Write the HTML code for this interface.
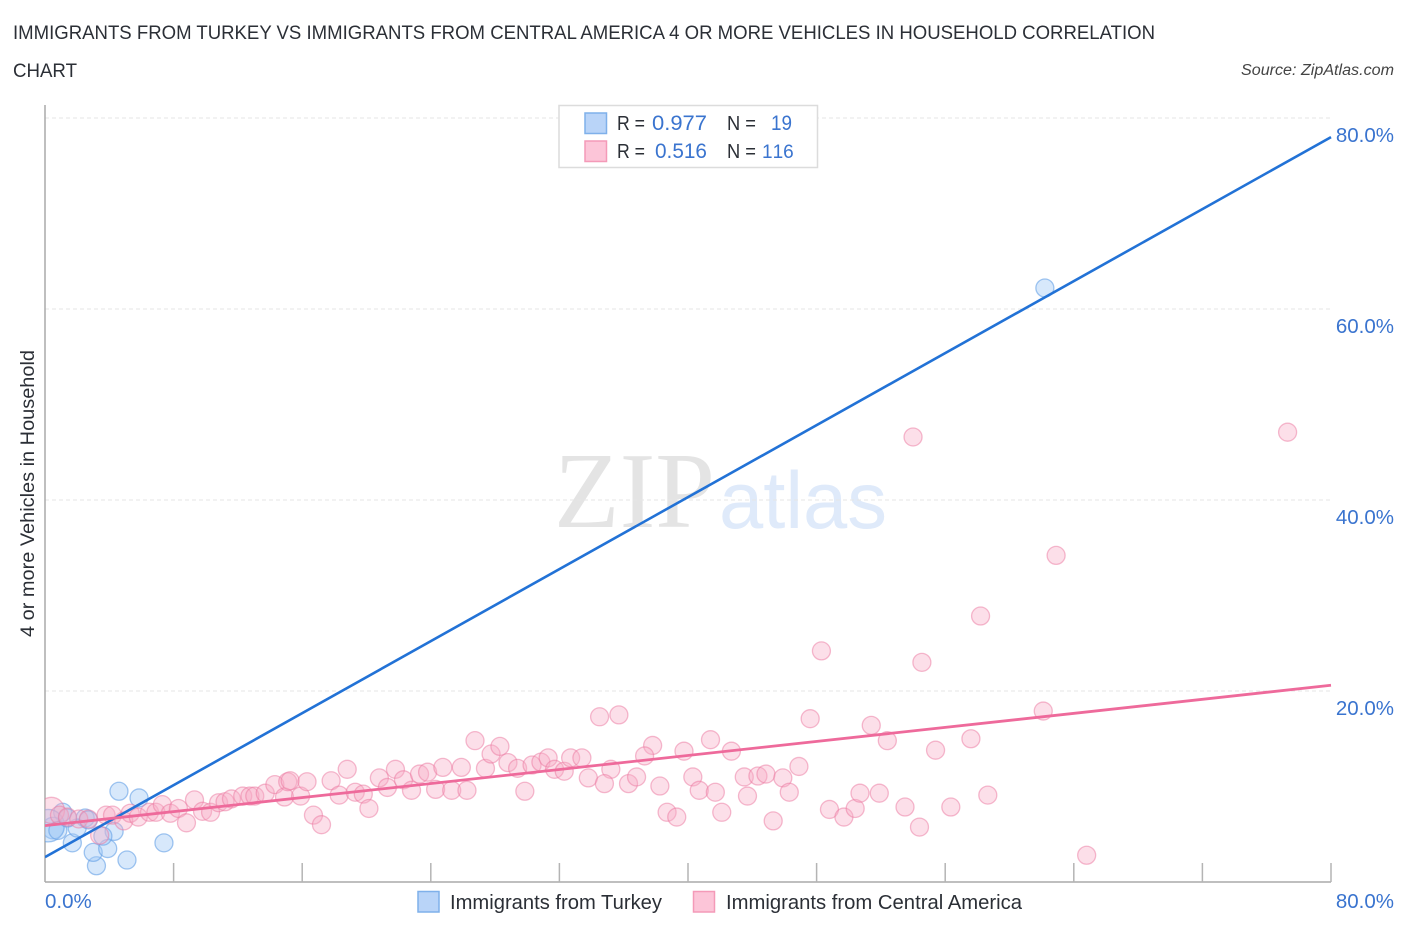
<!DOCTYPE html>
<html lang="en">
<head>
<meta charset="utf-8">
<title>Immigrants from Turkey vs Immigrants from Central America correlation chart</title>
<style>
html,body{margin:0;padding:0;background:#fff;width:1406px;height:930px;overflow:hidden}
svg{display:block;font-family:"Liberation Sans",sans-serif}
</style>
</head>
<body>
<svg id="chart" xmlns="http://www.w3.org/2000/svg" width="1406" height="930" viewBox="0 0 1406 930">
  <defs>
    <clipPath id="plot-clip"><rect x="45" y="100" width="1300" height="782"/></clipPath>
  </defs>
  <rect x="0" y="0" width="1406" height="930" fill="#fff"/>
  <text x="13" y="39" font-size="19" fill="#2b2f36" textLength="1142" lengthAdjust="spacingAndGlyphs">IMMIGRANTS FROM TURKEY VS IMMIGRANTS FROM CENTRAL AMERICA 4 OR MORE VEHICLES IN HOUSEHOLD CORRELATION</text>
  <text x="13" y="77" font-size="19" fill="#2b2f36" textLength="64" lengthAdjust="spacingAndGlyphs">CHART</text>
  <text x="1241" y="75" font-size="15.5" font-style="italic" fill="#444" textLength="153" lengthAdjust="spacingAndGlyphs">Source: ZipAtlas.com</text>
  <text x="554" y="527" font-size="108" fill="#e4e4e4" style="font-family:'Liberation Serif',serif" textLength="161" lengthAdjust="spacingAndGlyphs">ZIP</text>
  <text x="719" y="528" font-size="81" fill="#dfeafa" textLength="168" lengthAdjust="spacingAndGlyphs">atlas</text>
  <g id="grid"></g>
  <g id="axes"></g>
  <g clip-path="url(#plot-clip)">
    <g id="blue-points"></g>
    <g id="pink-points"></g>
    <g id="trends"></g>
  </g>
  <g id="labels"></g>
  <text transform="translate(34,637) rotate(-90)" x="0" y="0" font-size="19.5" fill="#2b2f36" textLength="287" lengthAdjust="spacingAndGlyphs">4 or more Vehicles in Household</text>

  <g>
    <rect x="559" y="105.500" width="258.500" height="62" fill="#fff" stroke="#dcdcdc" stroke-width="1.500"/>
    <rect x="585" y="113" width="21.500" height="20.500" fill="#b9d4f8" stroke="#7fb0ea" stroke-width="1.500"/>
    <rect x="585" y="141" width="21.500" height="20.500" fill="#fcc5d8" stroke="#f49ab8" stroke-width="1.500"/>
    <text x="617" y="130" font-size="20" fill="#2b2f36" textLength="28" lengthAdjust="spacingAndGlyphs">R =</text>
    <text x="652" y="130" font-size="21" fill="#3a74cf" textLength="55" lengthAdjust="spacingAndGlyphs">0.977</text>
    <text x="727" y="130" font-size="20" fill="#2b2f36" textLength="29" lengthAdjust="spacingAndGlyphs">N =</text>
    <text x="771" y="130" font-size="21" fill="#3a74cf" textLength="21" lengthAdjust="spacingAndGlyphs">19</text>
    <text x="617" y="158" font-size="20" fill="#2b2f36" textLength="28" lengthAdjust="spacingAndGlyphs">R =</text>
    <text x="655" y="158" font-size="21" fill="#3a74cf" textLength="52" lengthAdjust="spacingAndGlyphs">0.516</text>
    <text x="727" y="158" font-size="20" fill="#2b2f36" textLength="29" lengthAdjust="spacingAndGlyphs">N =</text>
    <text x="762" y="158" font-size="19" fill="#3a74cf" style="font-kerning:none;font-variant-ligatures:none">116</text>
  </g>

  <g>
    <rect x="418" y="891.500" width="21" height="20.500" fill="#b9d4f8" stroke="#7fb0ea" stroke-width="1.500"/>
    <text x="450" y="909" font-size="20" fill="#2b2f36" textLength="212" lengthAdjust="spacingAndGlyphs">Immigrants from Turkey</text>
    <rect x="693.500" y="891.500" width="21" height="20.500" fill="#fcc5d8" stroke="#f49ab8" stroke-width="1.500"/>
    <text x="726" y="909" font-size="20" fill="#2b2f36" textLength="296" lengthAdjust="spacingAndGlyphs">Immigrants from Central America</text>
  </g>
</svg>
<script>
// Chart data (percent values)
const yTicks = [20, 40, 60, 80];
const yTickLabels = ['20.0%', '40.0%', '60.0%', '80.0%'];
const xTicks = [8, 16, 24, 32, 40, 48, 56, 64, 72, 80];
const xEndValues = [0, 80];
const xEndLabels = ['0.0%', '80.0%'];

const turkeyX = [4.6, 5.85, 1.1, 2.5, 1.7, 7.4, 5.1, 3.2, 3.0, 3.9, 4.3, 3.6, 0.5, 0.2, 2.0, 0.8, 1.4, 2.7, 62.2];
const turkeyY = [9.5, 8.8, 7.3, 6.7, 4.1, 4.1, 2.3, 1.7, 3.1, 3.5, 5.3, 4.8, 5.65, 5.9, 5.65, 5.4, 6.7, 6.5, 62.2];
const turkeyWeight = [1, 1, 1, 1, 1, 1, 1, 1, 1, 1, 1, 1, 1.2, 1.8, 1, 1, 1, 1, 1];

const americaX = [0.4, 0.9, 1.4, 2.1, 2.7, 3.8, 4.2, 3.4, 4.9, 5.3, 5.8, 6.5, 6.9, 7.3, 7.8, 8.3, 8.8, 9.3, 9.8, 10.3, 10.8, 11.2, 11.6, 12.3, 12.75, 13.05, 13.7, 14.3, 14.9, 15.1, 15.25, 15.9, 16.3, 16.7, 17.2, 17.8, 18.8, 18.3, 19.3, 19.8, 20.15, 20.8, 21.3, 21.8, 22.3, 22.8, 23.3, 23.8, 24.3, 24.75, 25.3, 25.9, 26.25, 26.75, 27.4, 27.75, 28.3, 28.8, 29.4, 30.3, 30.85, 31.3, 29.85, 31.7, 32.3, 32.7, 33.4, 34.5, 35.7, 37.8, 37.3, 35.2, 33.8, 34.8, 36.3, 36.8, 38.25, 39.75, 41.4, 42.7, 40.3, 40.7, 41.7, 43.5, 44.35, 44.85, 45.9, 46.9, 46.3, 43.7, 42.1, 38.7, 39.3, 45.3, 47.6, 48.8, 49.7, 50.4, 50.7, 51.9, 51.4, 52.4, 53.5, 54.4, 55.4, 56.35, 57.6, 58.65, 62.1, 64.8, 54.0, 77.3, 62.9, 58.2, 54.55, 48.3];
const americaY = [7.5, 7.0, 6.8, 6.6, 6.6, 7.0, 7.0, 4.9, 6.4, 7.2, 6.8, 7.3, 7.3, 8.1, 7.2, 7.7, 6.2, 8.6, 7.4, 7.3, 8.3, 8.4, 8.7, 9.0, 9.0, 9.0, 9.3, 10.2, 8.9, 10.5, 10.6, 9.0, 10.5, 7.0, 6.0, 10.6, 11.8, 9.1, 9.4, 9.2, 7.7, 10.9, 9.9, 11.8, 10.7, 9.6, 11.3, 11.5, 9.7, 12.0, 9.6, 12.0, 9.6, 14.8, 11.9, 13.4, 14.2, 12.5, 11.9, 12.25, 12.55, 13.0, 9.5, 11.8, 11.6, 13.0, 13.0, 17.3, 17.5, 14.3, 13.2, 11.8, 10.9, 10.3, 10.3, 11.0, 10.05, 13.7, 14.9, 13.7, 11.0, 9.6, 9.4, 11.0, 11.1, 11.3, 10.9, 12.1, 9.4, 9.0, 7.3, 7.3, 6.8, 6.4, 17.1, 7.6, 6.8, 7.7, 9.3, 9.3, 16.4, 14.8, 7.85, 5.75, 13.8, 7.85, 15.0, 9.1, 17.9, 2.8, 46.6, 47.1, 34.2, 27.85, 23.0, 24.2];
const americaWeight = [1.45];

const trendX = [0, 80];
const turkeyTrendY = [2.6, 78.0];
const americaTrendY = [5.9, 20.6];

// Axis functions
const SVG_NS = 'http://www.w3.org/2000/svg';
const PLOT_LEFT = 45;
const PLOT_RIGHT = 1331;
const PLOT_TOP = 105;
const PLOT_BOTTOM = 882;
const X_PX_PER_UNIT = 16.075;
const Y_PX_PER_UNIT = 9.55;
const POINT_RADIUS = 9;
function xScale(v) { return PLOT_LEFT + v * X_PX_PER_UNIT; }
function yScale(v) { return PLOT_BOTTOM - v * Y_PX_PER_UNIT; }

function make(tag, attrs, parentId) {
  const el = document.createElementNS(SVG_NS, tag);
  Object.keys(attrs).forEach(function (k) { el.setAttribute(k, attrs[k]); });
  document.getElementById(parentId).appendChild(el);
  return el;
}

// Gridlines and y labels
yTicks.forEach(function (t, i) {
  const grid = make('line', { x1: PLOT_LEFT, x2: PLOT_RIGHT, y1: yScale(t), y2: yScale(t), stroke: '#e6e6e6', 'stroke-width': 1, 'stroke-dasharray': '4 3' }, 'grid');
  
  
  const label = make('text', { x: 1394, y: yScale(t) + 24, 'text-anchor': 'end', 'font-size': 20.5, fill: '#3a74cf' }, 'labels');
  
  
  label.textContent = yTickLabels[i];
});

// Axes and ticks
const yAxis = make('line', { x1: PLOT_LEFT, x2: PLOT_LEFT, y1: PLOT_TOP, y2: PLOT_BOTTOM, stroke: '#aaaaaa', 'stroke-width': 1.5 }, 'axes');


const xAxis = make('line', { x1: PLOT_LEFT, x2: PLOT_RIGHT, y1: PLOT_BOTTOM, y2: PLOT_BOTTOM, stroke: '#aaaaaa', 'stroke-width': 1.5 }, 'axes');


xTicks.forEach(function (t) {
  const tick = make('line', { x1: xScale(t), x2: xScale(t), y1: PLOT_BOTTOM - 19, y2: PLOT_BOTTOM, stroke: '#b4b4b4', 'stroke-width': 1.5 }, 'axes');
  
  
});
xEndValues.forEach(function (t, i) {
  const anchor = i === 0 ? 'start' : 'end';
  const px = i === 0 ? xScale(t) : xScale(t) + 63;
  const label = make('text', { x: px, y: 908, 'text-anchor': anchor, 'font-size': 20.5, fill: '#3a74cf' }, 'labels');
  
  
  label.textContent = xEndLabels[i];
});

// Points
turkeyX.forEach(function (x, i) {
  const c = make('circle', { cx: xScale(x), cy: yScale(turkeyY[i]), r: POINT_RADIUS * turkeyWeight[i], fill: 'rgba(160,200,245,0.42)', stroke: 'rgba(100,160,230,0.6)', 'stroke-width': 1.3 }, 'blue-points');
  
  
});
americaX.forEach(function (x, i) {
  const w = americaWeight[i] || 1;
  const c = make('circle', { cx: xScale(x), cy: yScale(americaY[i]), r: POINT_RADIUS * w, fill: 'rgba(248,170,198,0.38)', stroke: 'rgba(235,120,160,0.5)', 'stroke-width': 1.3 }, 'pink-points');
  
  
});

// Trend lines
const turkeyLine = make('line', { x1: xScale(trendX[0]), y1: yScale(turkeyTrendY[0]), x2: xScale(trendX[1]), y2: yScale(turkeyTrendY[1]), stroke: '#2272d6', 'stroke-width': 2.6 }, 'trends');


const americaLine = make('line', { x1: xScale(trendX[0]), y1: yScale(americaTrendY[0]), x2: xScale(trendX[1]), y2: yScale(americaTrendY[1]), stroke: '#ee6a9b', 'stroke-width': 2.8 }, 'trends');


</script>
</body>
</html>
